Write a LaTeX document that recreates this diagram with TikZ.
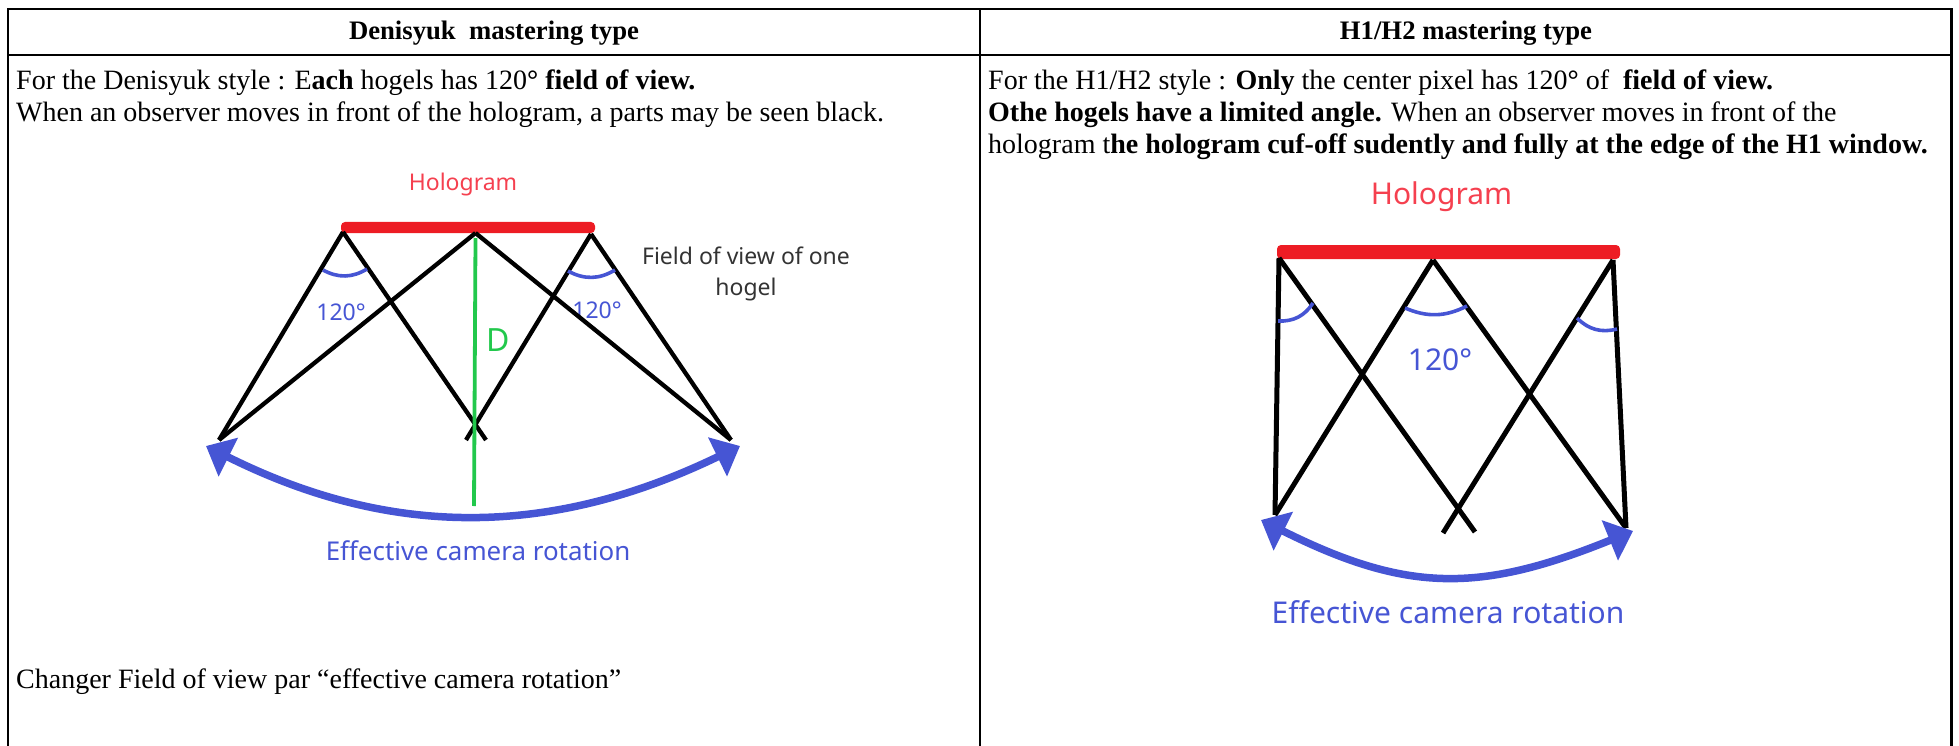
\documentclass[tikz,border=0pt]{standalone}
\usepackage{xcolor}
\usepackage{fontspec}
\setmainfont{Liberation Serif}
\newfontfamily\labelfont{Noto Sans}
\usetikzlibrary{arrows.meta, positioning}

\definecolor{holored}{HTML}{ED1C24}
\definecolor{holotext}{HTML}{F5404F}
\definecolor{camblue}{HTML}{4655D4}
\definecolor{dgreen}{HTML}{22C84C}
\definecolor{labelgrey}{HTML}{333333}

\begin{document}
\begin{tikzpicture}[
    x=1pt,
    y=-1pt,
    headtext/.style={
        inner sep=0pt,
        font=\fontsize{26.7}{32}\selectfont\bfseries
    },
    bodytext/.style={
        anchor=north west,
        align=left,
        inner sep=0pt,
        font=\fontsize{28}{32}\selectfont
    },
    holobar/.style={
        fill=holored,
        rounded corners=4pt,
        inner sep=0pt
    },
    ray/.style={
        line width=4.3pt
    },
    hray/.style={
        line width=5pt
    },
    anglearc/.style={
        camblue,
        line width=3.6pt
    },
    camarrow/.style={
        camblue,
        line width=7.5pt,
        {Triangle[length=25pt,width=42pt]}-{Triangle[length=25pt,width=42pt]}
    },
    sketchtext/.style={
        inner sep=0pt,
        align=center,
        font=\labelfont\fontsize{23}{31}\selectfont
    }
]

\useasboundingbox (0,0) rectangle (1959,746);

\draw[line width=2.6pt] (8,746) -- (8,9) -- (1951.5,9) -- (1951.5,746);
\draw[line width=2.6pt] (8,55) -- (1951.5,55);
\draw[line width=2.6pt] (980,9) -- (980,746);

\node[headtext] (denisyukhead) at (494,33) {Denisyuk\ \ mastering type};
\node[headtext] (hhead) at (1466,33) {H1/H2 mastering type};

\node[bodytext] (denisyukbody) at (16,70)
{For the Denisyuk style : E\textbf{ach} hogels has 120\textbf{°} \textbf{field of view.}\\
When an observer moves in front of the hologram, a parts may be seen black.};

\node[bodytext] (hbody) at (988,70)
{For the H1/H2 style : \textbf{Only} the center pixel has 120\textbf{°} of\ \ \textbf{field of view.}\\
\textbf{Othe hogels have a limited angle.} When an observer moves in front of the\\
hologram t\textbf{he hologram cuf-off sudently and fully at the edge of the H1 window.}};

\node[bodytext, anchor=west] (changer) at (16,682)
{Changer Field of view par “effective camera rotation”};

\node[holobar, minimum width=254pt, minimum height=11pt] (bar) at (468,227.5) {};
\node[sketchtext, holotext, above=26pt of bar, xshift=-5pt] (hololabel) {Hologram};
\node[sketchtext, labelgrey] (fovlabel) at (746,274) {Field of view of one\\hogel};
\node[sketchtext, camblue] (angleA) at (341,312) {120°};
\node[sketchtext, camblue] (angleC) at (597,310) {120°};
\node[sketchtext, dgreen, font=\labelfont\fontsize{32}{36}\selectfont] (dlabel) at (498,340) {D};
\node[sketchtext, camblue, font=\labelfont\fontsize{25.9}{30}\selectfont] (camlabel) at (478,551) {Effective camera rotation};

\coordinate (hogelA) at (343,232);
\coordinate (hogelB) at (475.5,233);
\coordinate (hogelC) at (591,234);
\coordinate (viewL) at (219,440);
\coordinate (crossL) at (466,440);
\coordinate (crossR) at (486,440);
\coordinate (viewR) at (731,440);
\coordinate (dtop) at (475.5,238);
\coordinate (dbottom) at (474,506);
\coordinate (arcAa) at (323,270);
\coordinate (arcAb) at (367,269);
\coordinate (arcCa) at (568,271);
\coordinate (arcCb) at (615,270);
\coordinate (tipL) at (206,446);
\coordinate (tipR) at (740,446);

\draw[ray] (hogelA) -- (viewL);
\draw[ray] (hogelA) -- (crossR);
\draw[ray] (hogelB) -- (viewL);
\draw[ray] (hogelB) -- (viewR);
\draw[ray] (hogelC) -- (crossL);
\draw[ray] (hogelC) -- (viewR);
\draw[dgreen, line width=3.8pt] (dtop) -- (dbottom);
\draw[anglearc] (arcAa) to[bend right=30] (arcAb);
\draw[anglearc] (arcCa) to[bend right=30] (arcCb);
\draw[camarrow] (tipL) .. controls (390,538) and (550,538) .. (tipR);

\node[holobar, minimum width=343pt, minimum height=14pt] (hbar) at (1448.5,252) {};
\node[sketchtext, holotext, font=\labelfont\fontsize{30}{36}\selectfont, above=33pt of hbar, xshift=-7pt] (hhololabel) {Hologram};
\node[sketchtext, camblue, font=\labelfont\fontsize{30}{36}\selectfont] (hangle) at (1440,360) {120°};
\node[sketchtext, camblue, font=\labelfont\fontsize{30}{36}\selectfont] (hcamlabel) at (1448,612) {Effective camera rotation};

\coordinate (pixA) at (1279,258);
\coordinate (pixB) at (1433,260);
\coordinate (pixC) at (1613,260);
\coordinate (hviewL) at (1275,515);
\coordinate (hviewR) at (1626,528);
\coordinate (hcrossL) at (1443,533);
\coordinate (hcrossR) at (1475,532);
\coordinate (harcAa) at (1278,321);
\coordinate (harcAb) at (1313,303);
\coordinate (harcBa) at (1405,308);
\coordinate (harcBb) at (1467,306);
\coordinate (harcCa) at (1577,318);
\coordinate (harcCb) at (1617,329);
\coordinate (htipL) at (1261,520);
\coordinate (htipR) at (1633,531);

\draw[hray] (pixA) -- (hviewL);
\draw[hray] (pixA) -- (hcrossR);
\draw[hray] (pixB) -- (hviewL);
\draw[hray] (pixB) -- (hviewR);
\draw[hray] (pixC) -- (hcrossL);
\draw[hray] (pixC) -- (hviewR);
\draw[anglearc] (harcAa) to[bend right=30] (harcAb);
\draw[anglearc] (harcBa) to[bend right=25] (harcBb);
\draw[anglearc] (harcCa) to[bend right=30] (harcCb);
\draw[camarrow] (htipL) .. controls (1407,593) and (1480,593) .. (htipR);

\end{tikzpicture}
\end{document}
